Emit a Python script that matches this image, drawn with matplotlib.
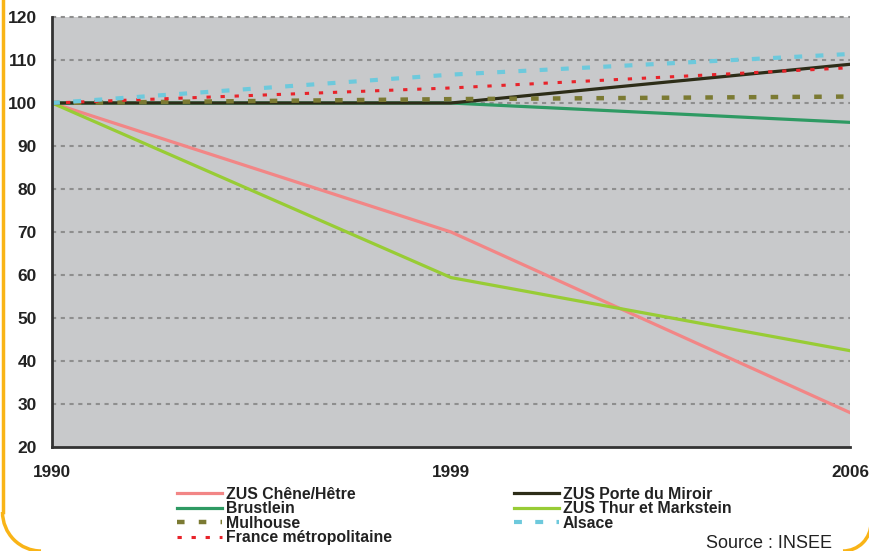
import matplotlib.pyplot as plt
from matplotlib.patches import Arc
from matplotlib.lines import Line2D

years = ['1990', '1999', '2006']
chene = [100, 70, 28]
brustlein = [100, 100, 95.5]
thur = [100, 59.4, 42.4]
porte = [100, 100, 109]
mulhouse = [100, 100.9, 101.5]
france = [100, 103.5, 108.2]
alsace = [100, 106.6, 111.4]

plt.rcParams['font.family'] = ['Liberation Sans', 'DejaVu Sans']

W, H = 869, 551
fig = plt.figure(figsize=(W / 100, H / 100), dpi=100)
ax = fig.add_axes([52 / W, (H - 447) / H, (850 - 52) / W, (447 - 17) / H])
ax.set_facecolor('#c8c9cb')

x = range(len(years))
l_chene, = ax.plot(x, chene, color='#f28686', lw=2.3, label='ZUS Chêne/Hêtre')
l_brus, = ax.plot(x, brustlein, color='#2e9a63', lw=2.3, label='Brustlein')
l_thur, = ax.plot(x, thur, color='#98cc35', lw=2.3, label='ZUS Thur et Markstein')
l_porte, = ax.plot(x, porte, color='#2d2d18', lw=2.3, label='ZUS Porte du Miroir')
l_mul, = ax.plot(x, mulhouse, color='#7b7a33', lw=3.2, dashes=(1.7, 3.2),
                 label='Mulhouse')
l_fr, = ax.plot(x, france, color='#e8232a', lw=2.2, dashes=(1.4, 3.2),
                label='France métropolitaine')
l_als, = ax.plot(x, alsace, color='#6dc9dc', lw=3.0, dashes=(1.9, 3.2),
                 label='Alsace')

ax.set_xlim(0, 2)
ax.set_ylim(20, 120)
ax.set_yticks(range(20, 121, 10))
ax.set_xticks(list(x))
ax.set_xticklabels(years)
for yv in range(30, 121, 10):
    ax.axhline(yv, color='#8e8e8e', lw=1.5, dashes=(2, 2.2), zorder=0.5, clip_on=False)

for s in ['top', 'right']:
    ax.spines[s].set_visible(False)
for s in ['left', 'bottom']:
    ax.spines[s].set_color('#333333')
    ax.spines[s].set_linewidth(2)
ax.tick_params(axis='y', length=0, pad=11, labelsize=12.5)
ax.tick_params(axis='x', length=0, pad=13, labelsize=12.3)
for t in ax.get_xticklabels() + ax.get_yticklabels():
    t.set_fontweight('bold')
    t.set_color('#222222')

handles = [l_chene, l_brus, l_mul, l_fr, l_porte, l_thur, l_als]
leg = fig.legend(handles=handles, loc='upper left', ncol=2,
                 bbox_to_anchor=(177 / W, (H - 487) / H), frameon=False,
                 prop={'weight': 'bold', 'size': 11.4}, handlelength=2.85,
                 handletextpad=0.25, labelspacing=-0.04, columnspacing=7.7,
                 borderpad=0, borderaxespad=0)
for t in leg.get_texts():
    t.set_color('#222222')

fig.text(832 / W, (H - 543) / H, 'Source : INSEE', ha='right', va='center',
         fontsize=13, color='#222222')

# orange frame
orange = '#f9b417'
fig.add_artist(Line2D([2.5 / W, 2.5 / W], [1, 39 / H], color=orange, lw=2.5,
                      transform=fig.transFigure))
fig.add_artist(Arc((41 / W, 39 / H), 77 / W, 78 / H, theta1=180, theta2=270,
                   color=orange, lw=2.5, transform=fig.transFigure))
fig.add_artist(Arc((843 / W, 28 / H), 56 / W, 56 / H, theta1=270, theta2=360,
                   color=orange, lw=2.5, transform=fig.transFigure))

fig.savefig('out.png', dpi=100)
